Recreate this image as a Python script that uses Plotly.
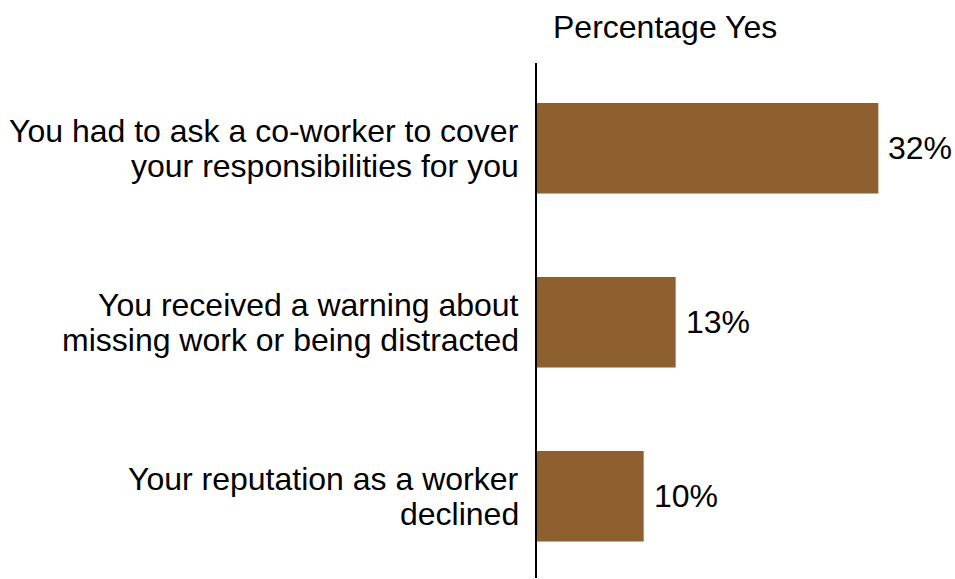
import plotly.graph_objects as go

# each category label is written over two lines
category_lines = [
    ["You had to ask a co-worker to cover", "your responsibilities for you"],
    ["You received a warning about", "missing work or being distracted"],
    ["Your reputation as a worker", "declined"],
]
values = [32, 13, 10]
value_labels = ["32%", "13%", "10%"]
positions = [0, 1, 2]

bar_color = "#8E5F2F"
font_family = "Liberation Sans, Arial, sans-serif"
font_size = 32
line_gap = 35  # px between the two lines of a category label

fig = go.Figure(
    go.Bar(
        x=values,
        y=positions,
        orientation="h",
        marker=dict(color=bar_color, line=dict(width=0)),
        width=0.52,
        hoverinfo="skip",
    )
)

label_font = dict(size=font_size, color="black", family=font_family)

# category labels to the left of the axis line
for pos, lines in zip(positions, category_lines):
    n = len(lines)
    for i, line in enumerate(lines):
        offset = ((n - 1) / 2 - i) * line_gap
        fig.add_annotation(
            x=0, y=pos, text=line, showarrow=False,
            xanchor="right", yanchor="middle", xshift=-16, yshift=offset,
            font=label_font,
        )

# value labels just past the end of each bar
for pos, val, lab in zip(positions, values, value_labels):
    fig.add_annotation(
        x=val, y=pos, text=lab, showarrow=False,
        xanchor="left", yanchor="middle", xshift=8,
        font=label_font,
    )

# column header above the bars
fig.add_annotation(
    x=(665 - 537) / 416, y=1 + (63 - 27) / 515, xref="paper", yref="paper",
    text="Percentage Yes", showarrow=False, xanchor="center", yanchor="middle",
    font=label_font,
)

fig.update_layout(
    width=955,
    height=579,
    margin=dict(l=537, r=2, t=63, b=1),
    paper_bgcolor="white",
    plot_bgcolor="white",
    showlegend=False,
    font=dict(family=font_family, color="black"),
    xaxis=dict(range=[0, 39], visible=False, fixedrange=True),
    yaxis=dict(
        range=[2.47, -0.49],
        showticklabels=False,
        showgrid=False,
        zeroline=False,
        showline=True,
        linecolor="black",
        linewidth=1.5,
        ticks="",
        fixedrange=True,
    ),
)

fig.write_html("out.html", config={"displayModeBar": False})
